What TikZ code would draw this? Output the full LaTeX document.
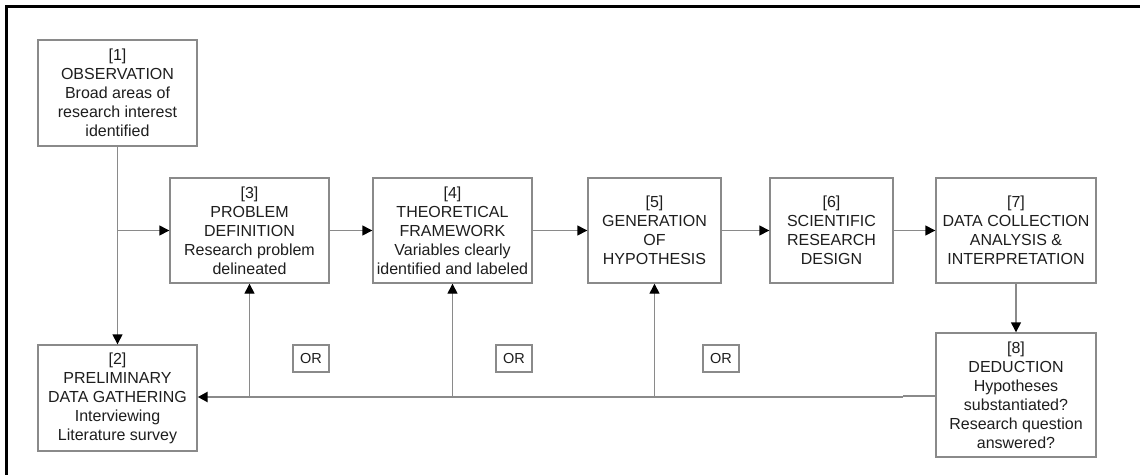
\documentclass[tikz,border=0pt]{standalone}
\usepackage{fontspec}
\setmainfont{Liberation Sans}
\usetikzlibrary{arrows.meta}
\definecolor{linegray}{HTML}{8A8A8A}
\definecolor{txt}{HTML}{1E1E1E}
\tikzset{
  stepbox/.style={draw=linegray, line width=1.4pt, fill=white, align=center, inner sep=0pt,
    text=txt, font=\fontsize{16}{19}\selectfont},
  orbox/.style={draw=linegray, line width=1.4pt, align=center, inner sep=0pt,
    minimum width=36pt, minimum height=27pt, text=txt, font=\fontsize{14.5}{16}\selectfont},
  conn/.style={draw=linegray, line width=1.4pt,
    -{Triangle[length=10pt,width=10pt,color=black]}},
  fbline/.style={draw=linegray, line width=2.6pt},
}
\begin{document}
\begin{tikzpicture}[x=1pt,y=-1pt]
\useasboundingbox (0,0) rectangle (1140,474);
\clip (0,0) rectangle (1140,474);
\fill[white] (0,0) rectangle (1140,474);
\draw[black, line width=2.5pt] (6.7,490) -- (6.7,6.7) -- (1160,6.7);

\node[stepbox, minimum width=159pt, minimum height=106pt] (b1) at (117.5,93) {[1]\\OBSERVATION\\Broad areas of\\research interest\\identified};
\node[stepbox, minimum width=159pt, minimum height=106pt] (b2) at (117.5,398) {[2]\\PRELIMINARY\\DATA GATHERING\\Interviewing\\Literature survey};
\node[stepbox, minimum width=159pt, minimum height=105pt] (b3) at (249.5,230.5) {[3]\\PROBLEM\\DEFINITION\\Research problem\\delineated};
\node[stepbox, minimum width=159pt, minimum height=105pt] (b4) at (452.5,230.5) {[4]\\THEORETICAL\\FRAMEWORK\\Variables clearly\\identified and labeled};
\node[stepbox, minimum width=133pt, minimum height=105pt] (b5) at (654.5,230.5) {[5]\\GENERATION\\OF\\HYPOTHESIS};
\node[stepbox, minimum width=123pt, minimum height=105pt] (b6) at (831.5,230.5) {[6]\\SCIENTIFIC\\RESEARCH\\DESIGN};
\node[stepbox, minimum width=160pt, minimum height=105pt] (b7) at (1016,230.5) {[7]\\DATA COLLECTION\\ANALYSIS \&\\INTERPRETATION};
\node[stepbox, minimum width=160pt, minimum height=124pt] (b8) at (1016,395) {[8]\\DEDUCTION\\Hypotheses\\substantiated?\\Research question\\answered?};

\node[orbox] (or1) at (311,358.5) {OR};
\node[orbox] (or2) at (514,358.5) {OR};
\node[orbox] (or3) at (721,358.5) {OR};

% main flow
\coordinate (split) at (b1.south |- b3.west);
\draw[conn] (b1.south) -- (b2.north);
\draw[conn] (split) -- (b3.west);
\draw[conn] (b3.east) -- (b4.west);
\draw[conn] (b4.east) -- (b5.west);
\draw[conn] (b5.east) -- (b6.west);
\draw[conn] (b6.east) -- (b7.west);
\draw[conn] (b7.south) -- (b8.north);

% feedback
\coordinate (fbr) at (903,397);
\coordinate (fb3) at (b3.south |- fbr);
\coordinate (fb4) at (b4.south |- fbr);
\coordinate (fb5) at (b5.south |- fbr);
\draw[draw=linegray, line width=1.4pt] (b8.west |- 0,396) -- (903,396);
\draw[fbline] (fbr) -- (fb3);
\draw[conn, line width=2.6pt, -{Triangle[length=10pt,width=10pt,color=black]}] (fb3) -- (b2.east |- fbr);
\draw[conn] (fb3) -- (b3.south);
\draw[conn] (fb4) -- (b4.south);
\draw[conn] (fb5) -- (b5.south);
\end{tikzpicture}
\end{document}
